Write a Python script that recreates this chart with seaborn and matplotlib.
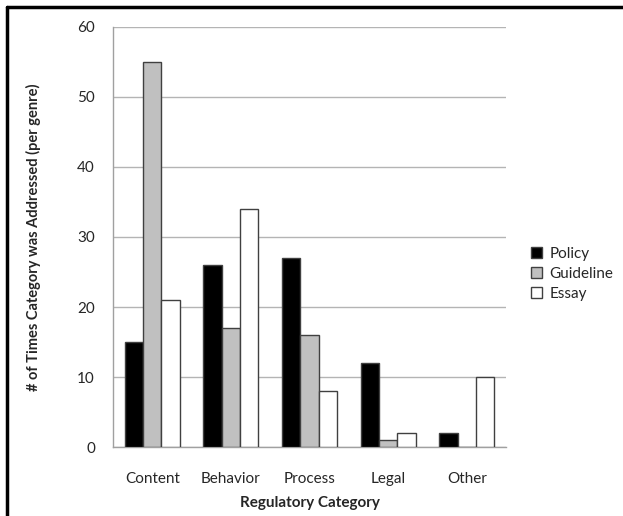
import matplotlib
matplotlib.use("Agg")
import matplotlib.pyplot as plt
from matplotlib.lines import Line2D
from matplotlib.patches import Patch
import seaborn as sns
import pandas as pd

categories = ["Content", "Behavior", "Process", "Legal", "Other"]
genres = ["Policy", "Guideline", "Essay"]
policy = [15, 26, 27, 12, 2]
guideline = [55, 17, 16, 1, 0]
essay = [21, 34, 8, 2, 10]
yticks = [0, 10, 20, 30, 40, 50, 60]

colors = {"Policy": "#000000", "Guideline": "#c0c0c0", "Essay": "#ffffff"}

rows = []
for g, vals in zip(genres, [policy, guideline, essay]):
    for c, v in zip(categories, vals):
        rows.append({"category": c, "genre": g, "count": v})
df = pd.DataFrame(rows)

sns.set_theme(style="white")
plt.rcParams["font.family"] = ["Lato", "DejaVu Sans"]

fig = plt.figure(figsize=(6.23, 5.16), dpi=100)
ax = fig.add_axes([0.1814, 0.1337, 0.6308, 0.814])

sns.barplot(data=df, x="category", y="count", hue="genre", order=categories,
            hue_order=genres, palette=colors, width=0.7, gap=0,
            edgecolor="#404040", linewidth=1.0, saturation=1, ax=ax,
            legend=False, zorder=3)

ax.set_ylim(0, 60)
ax.set_xlim(-0.5, len(categories) - 0.5)
ax.set_yticks(yticks)
ax.yaxis.grid(True, color="#b4b4b4", linewidth=1.0, zorder=0)
ax.set_axisbelow(True)

for s in ["top", "right"]:
    ax.spines[s].set_visible(False)
for s in ["left", "bottom"]:
    ax.spines[s].set_color("#a0a0a0")
    ax.spines[s].set_linewidth(1.0)

ax.set_xticks([i - 0.5 for i in range(len(categories) + 1)], minor=True)
ax.set_xticks(range(len(categories)))
ax.set_xticklabels(categories, fontsize=11)
ax.tick_params(axis="x", which="major", length=0, pad=18)
ax.tick_params(axis="x", which="minor", length=5, color="#a0a0a0", width=1.0, direction="out")
ax.tick_params(axis="y", length=5, color="#a0a0a0", width=1.0, direction="out", labelsize=11, pad=8)

ax.set_xlabel("Regulatory Category", fontsize=11, fontweight="bold", labelpad=7)
ax.set_ylabel("# of Times Category was Addressed (per genre)", fontsize=10.5,
              fontweight="bold", labelpad=26)

handles = [Patch(facecolor=colors[g], edgecolor="#404040", linewidth=1.0, label=g) for g in genres]
fig.legend(handles=handles, loc="center left", bbox_to_anchor=(0.83, 0.469),
           frameon=False, fontsize=11, handlelength=0.7, handleheight=0.7,
           handletextpad=0.5, labelspacing=0.4)

# frame edges along the top and left of the figure
fig.add_artist(Line2D([7 / 623, 1.0], [1 - 7 / 516, 1 - 7 / 516], color="black", linewidth=2.5,
                      transform=fig.transFigure))
fig.add_artist(Line2D([7 / 623, 7 / 623], [0.0, 1 - 7 / 516], color="black", linewidth=2.5,
                      transform=fig.transFigure))

fig.savefig("out.png", dpi=100)
